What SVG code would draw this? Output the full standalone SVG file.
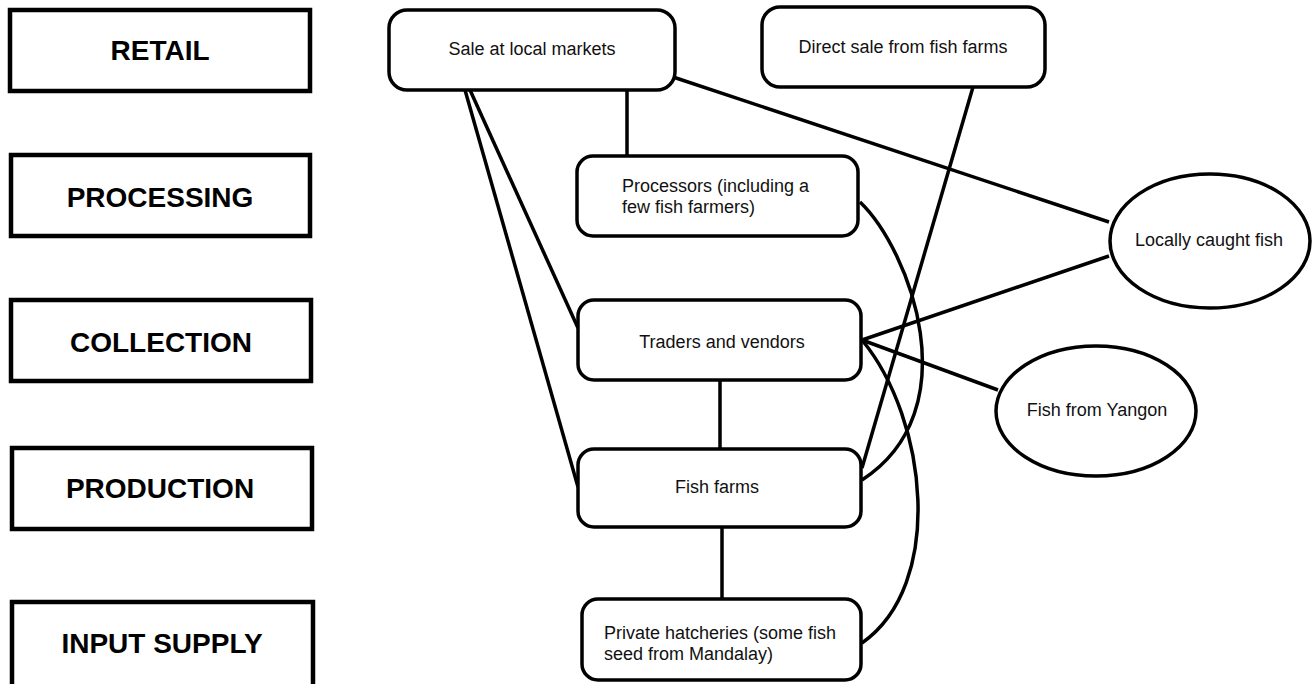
<svg xmlns="http://www.w3.org/2000/svg" width="1313" height="684" viewBox="0 0 1313 684">
<style>
.stage{fill:#fff;stroke:#000;stroke-width:4.5}
.stxt{font-family:"Liberation Sans",Arial,sans-serif;font-weight:bold;font-size:28px;fill:#000;text-anchor:middle}
.node{fill:#fff;stroke:#000;stroke-width:3.5}
.ntxt{font-family:"Liberation Sans",Arial,sans-serif;font-size:18px;fill:#111}
.mid{text-anchor:middle}
.conn{fill:none;stroke:#000;stroke-width:3.5}
</style>
<rect width="1313" height="684" fill="#fff"/>
<g id="connectors">
<line class="conn" x1="627" y1="90" x2="627" y2="156"/>
<line class="conn" x1="470" y1="90" x2="578" y2="328"/>
<line class="conn" x1="465" y1="90" x2="578" y2="487"/>
<line class="conn" x1="673" y1="77" x2="1109" y2="222"/>
<line class="conn" x1="973" y1="87" x2="862" y2="468"/>
<path class="conn" d="M860,202 C910,250 970,410 862,480"/>
<path class="conn" d="M862,340 C928,420 945,585 862,643"/>
<line class="conn" x1="862" y1="340" x2="1109" y2="256"/>
<line class="conn" x1="862" y1="340" x2="998" y2="390"/>
<line class="conn" x1="720" y1="380" x2="720" y2="449"/>
<line class="conn" x1="722" y1="527" x2="722" y2="599"/>
</g>
<g id="stage-retail"><rect class="stage" x="10" y="10" width="300" height="81"/><text class="stxt" x="160" y="60">RETAIL</text></g>
<g id="stage-processing"><rect class="stage" x="11" y="155" width="299" height="81"/><text class="stxt" x="160" y="207">PROCESSING</text></g>
<g id="stage-collection"><rect class="stage" x="11" y="300" width="300" height="81"/><text class="stxt" x="161" y="352">COLLECTION</text></g>
<g id="stage-production"><rect class="stage" x="12" y="448" width="300" height="81"/><text class="stxt" x="160" y="498">PRODUCTION</text></g>
<g id="stage-input"><rect class="stage" x="12" y="602" width="301" height="95"/><text class="stxt" x="162" y="653">INPUT SUPPLY</text></g>
<g id="sale-local"><rect class="node" x="389" y="10" width="286" height="80" rx="18"/><text class="ntxt mid" x="532" y="55">Sale at local markets</text></g>
<g id="direct-sale"><rect class="node" x="762" y="7" width="283" height="80" rx="18"/><text class="ntxt mid" x="903" y="53">Direct sale from fish farms</text></g>
<g id="processors"><rect class="node" x="577" y="156" width="281" height="80" rx="16"/><text class="ntxt" x="622" y="192">Processors (including a</text><text class="ntxt" x="622" y="213">few fish farmers)</text></g>
<g id="traders"><rect class="node" x="578" y="300" width="283" height="80" rx="16"/><text class="ntxt mid" x="722" y="348">Traders and vendors</text></g>
<g id="fish-farms"><rect class="node" x="578" y="449" width="283" height="78" rx="16"/><text class="ntxt mid" x="717" y="493">Fish farms</text></g>
<g id="hatcheries"><rect class="node" x="582" y="599" width="279" height="81" rx="16"/><text class="ntxt" x="604" y="639">Private hatcheries (some fish</text><text class="ntxt" x="604" y="660">seed from Mandalay)</text></g>
<g id="locally-caught"><ellipse class="node" cx="1210" cy="241" rx="100" ry="67"/><text class="ntxt mid" x="1209" y="246">Locally caught fish</text></g>
<g id="yangon"><ellipse class="node" cx="1096" cy="411" rx="100" ry="65"/><text class="ntxt mid" x="1097" y="416">Fish from Yangon</text></g>
</svg>
